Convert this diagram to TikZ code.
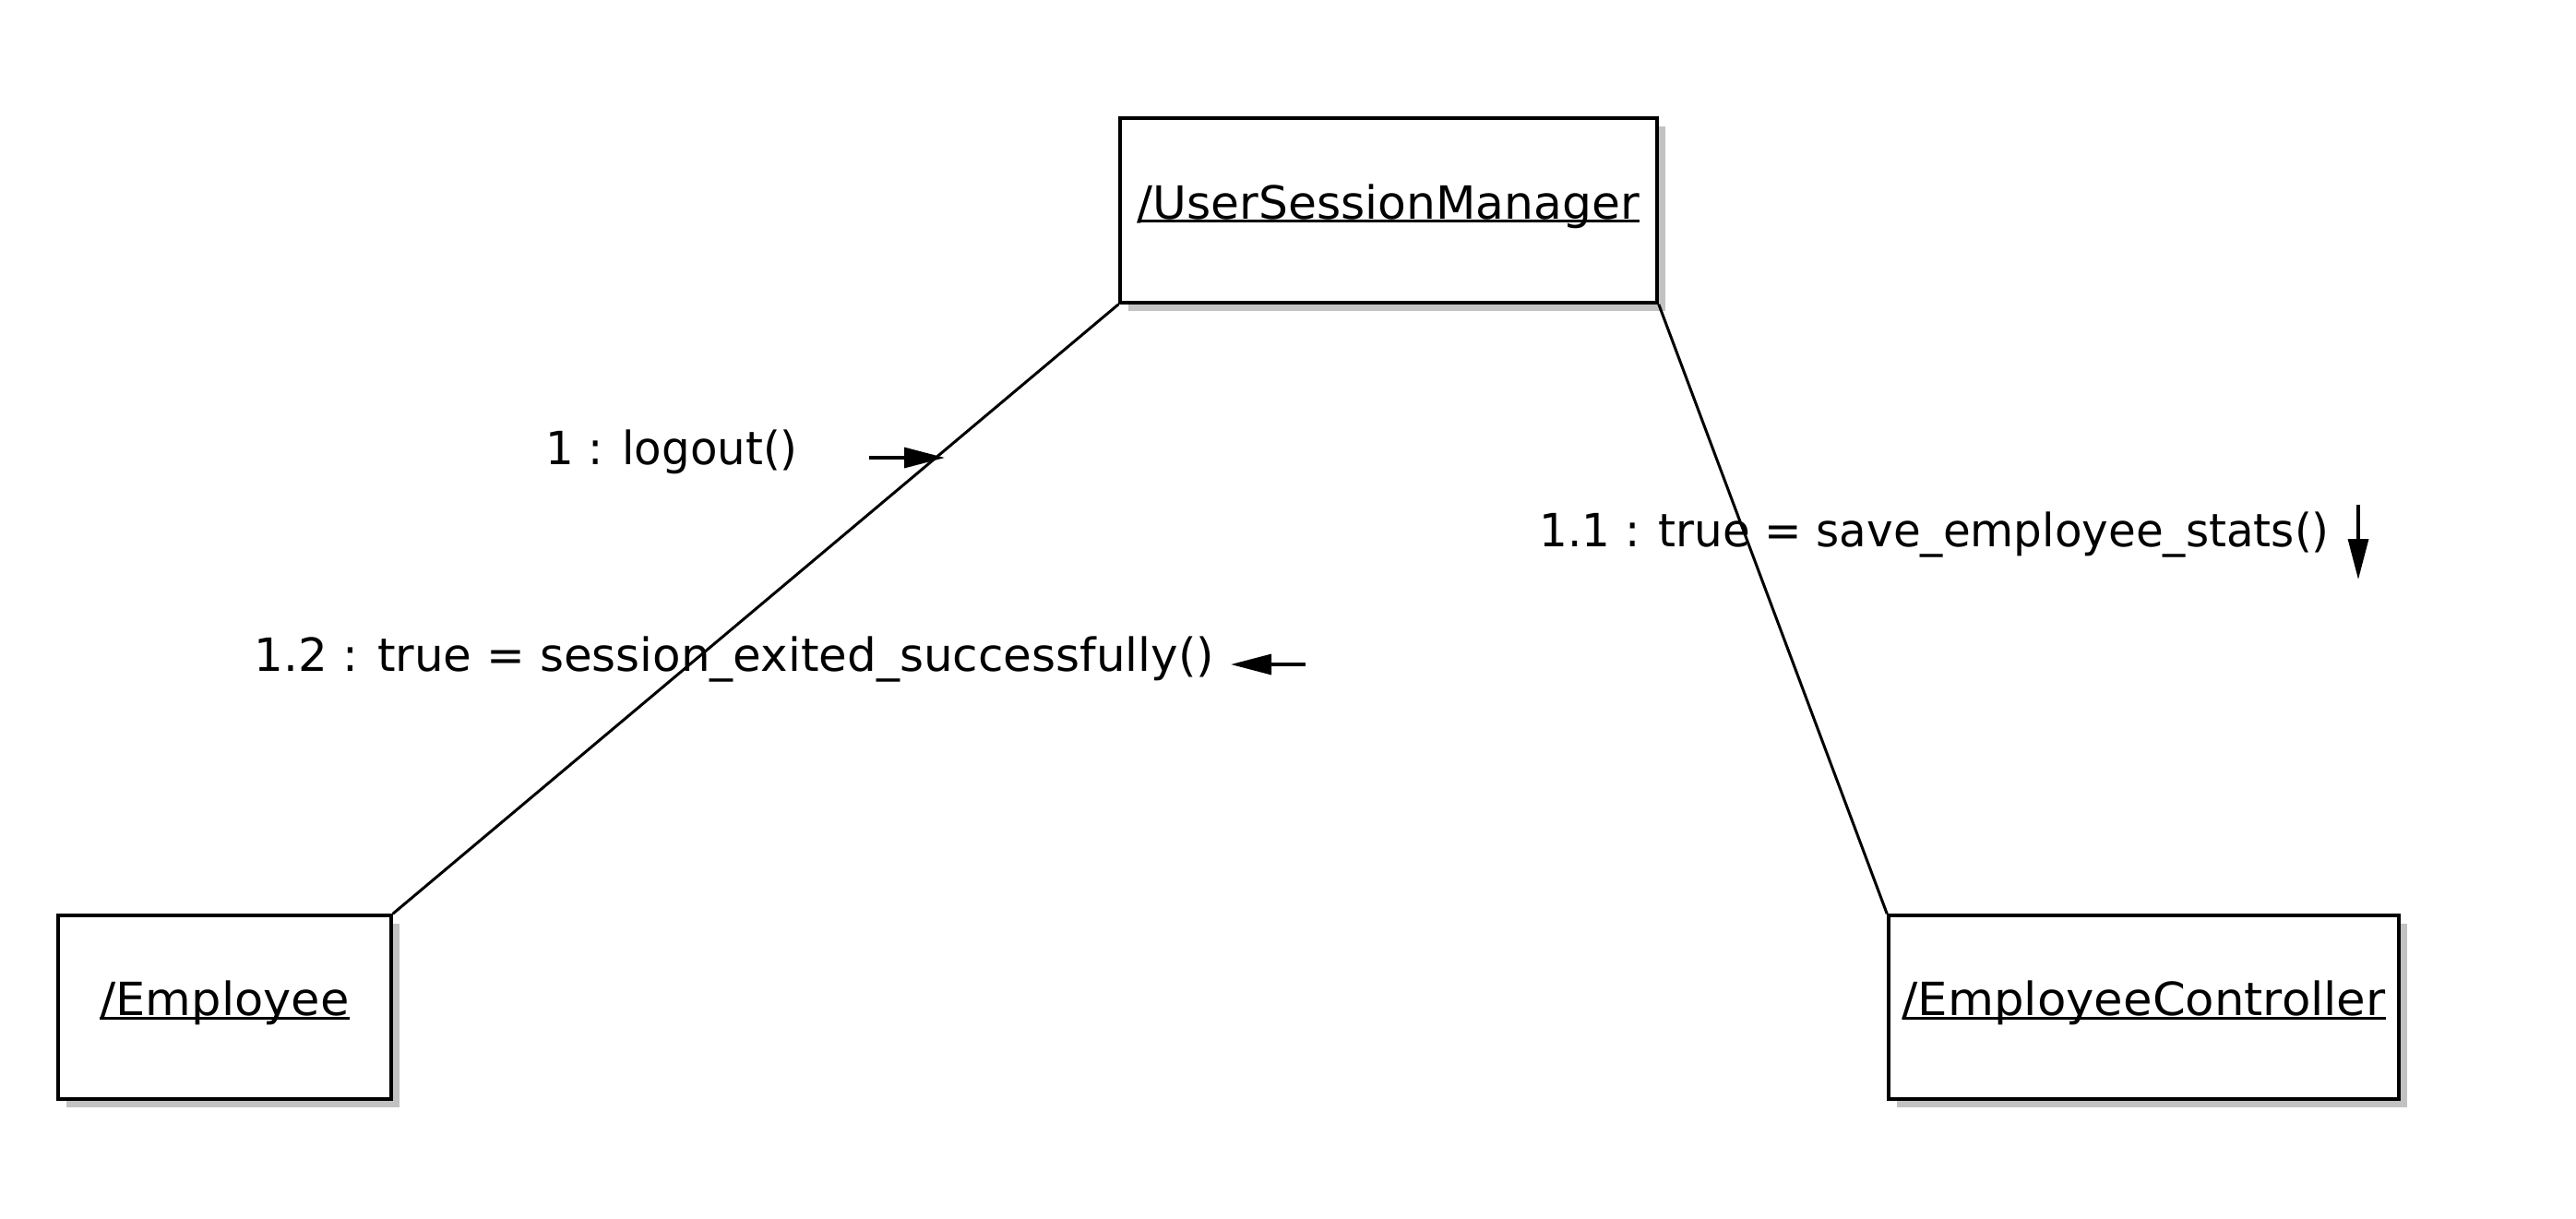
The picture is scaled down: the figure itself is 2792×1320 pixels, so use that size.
\documentclass[tikz,border=0pt]{standalone}
\usepackage{fontspec}
\setmainfont{DejaVu Sans}
\usetikzlibrary{arrows.meta,shadows}
\newsavebox{\ulsave}
\newcommand{\ultext}[1]{\sbox{\ulsave}{#1}\rlap{\rule[-1.1pt]{\wd\ulsave}{0.75pt}}\usebox{\ulsave}}
\newcommand{\fitw}[2]{\resizebox{#1}{\height}{#2}}
\begin{document}
\begin{tikzpicture}[x=0.25pt,y=-0.25pt,
  labelfont/.style={font=\fontsize{12.4pt}{15pt}\selectfont},
  objbox/.style={draw=black, line width=0.9pt, fill=white, inner sep=0pt,
    text height=9.5pt, text depth=5pt, labelfont,
    drop shadow={shadow xshift=2.2pt, shadow yshift=-2.2pt, fill=black!24, opacity=1}},
  msg/.style={inner sep=0pt, anchor=base west, labelfont},
  link/.style={line width=0.75pt},
  msgarrow/.style={line width=0.8pt, -{Triangle[length=11pt,width=5.5pt]}}]
\useasboundingbox[fill=white] (0,0) rectangle (2792,1320);

\node[objbox, minimum width=145.5pt, minimum height=50pt] (usm) at (1505,228) {\fitw{136pt}{\ultext{/UserSessionManager}}};
\node[objbox, minimum width=90.25pt, minimum height=49.75pt] (emp) at (243.5,1091.5) {\fitw{67.5pt}{\ultext{/Employee}}};
\node[objbox, minimum width=138.25pt, minimum height=49.75pt] (ec) at (2323.5,1091.5) {\fitw{131pt}{\ultext{/EmployeeController}}};

\draw[link] (emp.north east) -- (usm.south west);
\draw[link] (ec.north west) -- (usm.south east);

\node[msg] (m1) at (591,503) {\fitw{68.25pt}{1 : logout()}};
\node[msg] (m12) at (275,727) {\fitw{260pt}{1.2 : true = session\_exited\_successfully()}};
\node[msg] (m11) at (1668,592) {\fitw{214pt}{1.1 : true = save\_employee\_stats()}};

\coordinate (a1s) at (942,496); \coordinate (a1e) at (1024,496);
\coordinate (a2s) at (1415,720); \coordinate (a2e) at (1334,720);
\coordinate (a3s) at (2556,547); \coordinate (a3e) at (2556,628);
\draw[msgarrow] (a1s) -- (a1e);
\draw[msgarrow] (a2s) -- (a2e);
\draw[msgarrow] (a3s) -- (a3e);
\end{tikzpicture}
\end{document}
